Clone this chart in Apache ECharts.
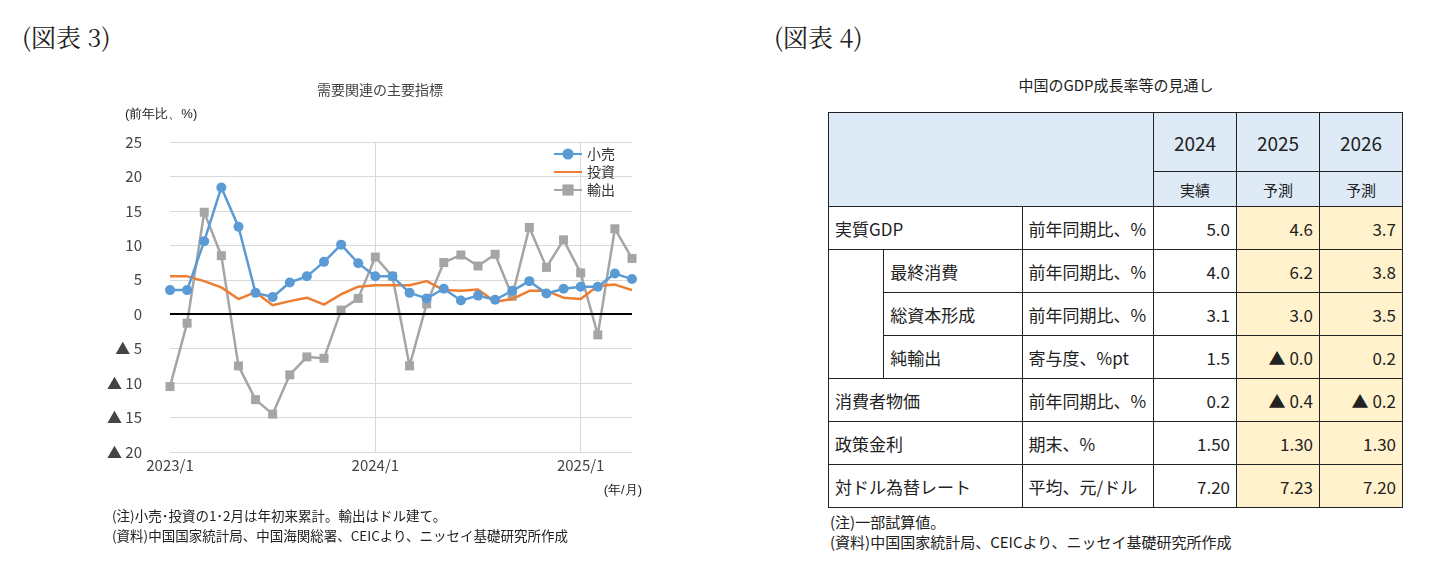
<!DOCTYPE html>
<html><head><meta charset="utf-8">
<script src="https://cdn.jsdelivr.net/npm/echarts@6/dist/echarts.min.js"></script>
<style>
body{margin:0;width:1452px;height:587px;background:#fff;font-family:"Noto Sans CJK JP",sans-serif;color:#222;position:relative;overflow:hidden}
.fig{position:absolute;top:18px;font-family:"Noto Serif CJK JP","Noto Sans CJK JP",serif;font-size:25px}
#chart{position:absolute;left:90px;top:70px;width:580px;height:440px}
.note{position:absolute;font-size:13.5px;line-height:20px}
#ttl4{position:absolute;left:828px;width:576px;top:74px;text-align:center;font-size:15px}
table{position:absolute;left:828px;top:112px;border-collapse:collapse;font-size:17px}
td{border:1px solid #222;height:42px;padding:0 6px}
.h{background:#deebf7}
.y{background:#fff2cc}
.n{text-align:right}
.c{text-align:center}
</style></head><body>
<div class="fig" style="left:22px">(図表 3)</div>
<div class="fig" style="left:774px">(図表 4)</div>
<div id="chart"></div>
<div class="note" style="left:112px;top:505px">(注)小売･投資の1･2月は年初来累計。輸出はドル建て。<br>(資料)中国国家統計局、中国海関総署、CEICより、ニッセイ基礎研究所作成</div>
<div id="ttl4">中国のGDP成長率等の見通し</div>
<table id="tbl"></table>
<div class="note" style="left:830px;top:512px;font-size:15px">(注)一部試算値。<br>(資料)中国国家統計局、CEICより、ニッセイ基礎研究所作成</div>
<script>
const months = [];
for (let y = 2023; y <= 2025; y++) for (let m = 1; m <= 12; m++) if (months.length < 28) months.push(y + '/' + m);
const retail = [3.5,3.5,10.6,18.4,12.7,3.1,2.5,4.6,5.5,7.6,10.1,7.4,5.5,5.5,3.1,2.3,3.7,2.0,2.7,2.1,3.4,4.8,3.0,3.7,4.0,4.0,5.9,5.1];
const invest = [5.5,5.5,4.8,3.9,2.2,3.2,1.3,1.9,2.4,1.4,2.9,4.0,4.2,4.2,4.2,4.8,3.5,3.4,3.6,1.8,2.2,3.4,3.4,2.4,2.2,4.1,4.3,3.5];
const exportsYoy = [-10.5,-1.3,14.8,8.5,-7.5,-12.4,-14.5,-8.8,-6.2,-6.4,0.6,2.3,8.3,5.5,-7.5,1.5,7.5,8.6,7.0,8.7,2.6,12.6,6.8,10.8,6.0,-3.0,12.4,8.1];
const yTicks = {min: -20, max: 25, step: 5};

const tblHead = ['2024', '2025', '2026'];
const tblSub = ['実績', '予測', '予測'];
const tblRows = [
  ['実質GDP', '前年同期比、%', '5.0', '4.6', '3.7', 0],
  ['最終消費', '前年同期比、%', '4.0', '6.2', '3.8', 1],
  ['総資本形成', '前年同期比、%', '3.1', '3.0', '3.5', 1],
  ['純輸出', '寄与度、%pt', '1.5', '▲ 0.0', '0.2', 1],
  ['消費者物価', '前年同期比、%', '0.2', '▲ 0.4', '▲ 0.2', 0],
  ['政策金利', '期末、%', '1.50', '1.30', '1.30', 0],
  ['対ドル為替レート', '平均、元/ドル', '7.20', '7.23', '7.20', 0]
];

// table
let html = '<tr><td class="h" colspan="3" rowspan="2" style="width:312px;height:58px"></td>' +
  tblHead.map(h => `<td class="h c" style="width:70px;height:58px;font-size:19px">${h}</td>`).join('') + '</tr>';
html += '<tr>' + tblSub.map(s => `<td class="h c" style="height:34px;font-size:15px">${s}</td>`).join('') + '</tr>';
let subStart = true;
tblRows.forEach(r => {
  html += '<tr>';
  if (r[5]) {
    if (subStart) { html += '<td rowspan="3" style="width:40px;border-top:none;border-bottom:1px solid #222"></td>'; subStart = false; }
    html += `<td style="width:120px">${r[0]}</td>`;
  } else {
    html += `<td colspan="2" style="width:180px">${r[0]}</td>`;
  }
  html += `<td style="width:118px">${r[1]}</td><td class="n">${r[2]}</td><td class="n y">${r[3]}</td><td class="n y">${r[4]}</td></tr>`;
});
document.getElementById('tbl').innerHTML = html;

const chart = echarts.init(document.getElementById('chart'));
const fmt = v => v < 0 ? '▲ ' + (-v) : String(v);
const showIdx = i => i % 12 === 0;
chart.setOption({
  textStyle: {fontFamily: '"Noto Sans CJK JP", sans-serif'},
  title: {text: '需要関連の主要指標', left: 'center', top: 8, textStyle: {fontSize: 14, fontWeight: 'normal', color: '#444'}},
  graphic: [
    {type: 'text', left: 35, top: 38, style: {text: '(前年比、%)', fontSize: 13, fill: '#222'}},
    {type: 'text', right: 28, top: 414, style: {text: '(年/月)', fontSize: 13, fill: '#222'}}
  ],
  legend: {
    right: 50, top: 72, orient: 'vertical', itemGap: 4, itemWidth: 28,
    textStyle: {fontSize: 14, color: '#333'},
    data: ['小売', {name: '投資', itemStyle: {opacity: 0}}, '輸出']
  },
  grid: {left: 80, right: 38, top: 72, bottom: 58},
  xAxis: {
    type: 'category', data: months, boundaryGap: false,
    axisLine: {show: false}, axisTick: {show: false},
    axisLabel: {interval: (i) => showIdx(i), color: '#444', fontSize: 15, margin: 6},
    splitLine: {show: true, interval: (i) => i > 0 && showIdx(i), lineStyle: {color: '#d9d9d9'}}
  },
  yAxis: {
    type: 'value', min: yTicks.min, max: yTicks.max, interval: yTicks.step,
    axisLabel: {formatter: fmt, color: '#444', fontSize: 15, margin: 28},
    axisLine: {show: false}, axisTick: {show: false},
    splitLine: {lineStyle: {color: '#d9d9d9'}}
  },
  series: [
    {name: '小売', type: 'line', data: retail, symbol: 'circle', symbolSize: 10,
      itemStyle: {color: '#5b9bd5'}, lineStyle: {width: 2.5}, z: 4,
      markLine: {silent: true, symbol: 'none', label: {show: false}, lineStyle: {color: '#000', width: 2, type: 'solid'}, data: [{yAxis: 0}]}},
    {name: '投資', type: 'line', data: invest, showSymbol: false, symbol: 'none',
      itemStyle: {color: '#ed7d31'}, lineStyle: {width: 2.5}, z: 3},
    {name: '輸出', type: 'line', data: exportsYoy, symbol: 'rect', symbolSize: 9,
      itemStyle: {color: '#a5a5a5'}, lineStyle: {width: 2.5}, z: 2}
  ]
});
</script>
</body></html>
